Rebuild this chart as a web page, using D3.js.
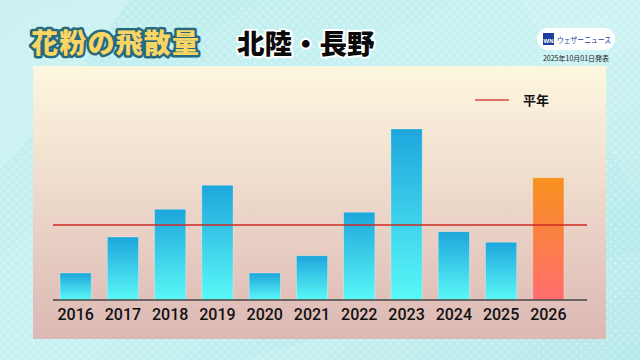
<!DOCTYPE html>
<html>
<head>
<meta charset="utf-8">
<script src="https://cdn.jsdelivr.net/npm/d3@7"></script>
<style>
  html, body { margin: 0; padding: 0; background: #b9ecee; }
  svg { display: block; }
</style>
</head>
<body>
<div id="chart"></div>
<script>
// pollen amount, index relative to the normal year (平年 = 100)
const years = ["2016","2017","2018","2019","2020","2021","2022","2023","2024","2025","2026"];
const amounts = [36, 84, 121, 153, 36, 59, 117, 228, 91, 77, 163];
const normalValue = 100;
const forecastYear = "2026";

const titleText = "花粉の飛散量";
const regionText = "北陸・長野";
const legendText = "平年";
const dateText = "2025年10月01日発表";

const W = 640, H = 360;

const svg = d3.select("#chart")
  .append("svg")
  .attr("width", W)
  .attr("height", H)
  .attr("viewBox", `0 0 ${W} ${H}`);

const defs = svg.append("defs");

// background gradient + dots
const bg = defs.append("linearGradient").attr("id","bgGrad")
  .attr("x1","0").attr("y1","0").attr("x2","1").attr("y2","1");
bg.append("stop").attr("offset","0%").attr("stop-color","#bdeced");
bg.append("stop").attr("offset","50%").attr("stop-color","#c9f2f3");
bg.append("stop").attr("offset","100%").attr("stop-color","#aee6e8");

const dots = defs.append("pattern").attr("id","dots")
  .attr("width",6).attr("height",6).attr("patternUnits","userSpaceOnUse")
  .attr("patternTransform","rotate(45)");
dots.append("circle").attr("cx",3).attr("cy",3).attr("r",1.3).attr("fill","#ffffff").attr("opacity",0.35);

const panelGrad = defs.append("linearGradient").attr("id","panelGrad")
  .attr("x1","0").attr("y1","0").attr("x2","0").attr("y2","1");
panelGrad.append("stop").attr("offset","0%").attr("stop-color","#fdf7df");
panelGrad.append("stop").attr("offset","100%").attr("stop-color","#dcb8b4");

const barGrad = defs.append("linearGradient").attr("id","barGrad")
  .attr("x1","0").attr("y1","0").attr("x2","0").attr("y2","1");
barGrad.append("stop").attr("offset","0%").attr("stop-color","#1ea6dc");
barGrad.append("stop").attr("offset","100%").attr("stop-color","#5af8f7");

const fcGrad = defs.append("linearGradient").attr("id","fcGrad")
  .attr("x1","0").attr("y1","0").attr("x2","0").attr("y2","1");
fcGrad.append("stop").attr("offset","0%").attr("stop-color","#f7921d");
fcGrad.append("stop").attr("offset","100%").attr("stop-color","#ff6d6f");

svg.append("rect").attr("width",W).attr("height",H).attr("fill","url(#bgGrad)");
svg.append("rect").attr("width",W).attr("height",H).attr("fill","url(#dots)");
// soft diagonal light shapes
svg.append("path").attr("d","M0,0 L130,0 L20,150 L0,170 Z").attr("fill","#d2f3f4").attr("opacity",0.7);
svg.append("path").attr("d","M520,0 L640,0 L640,200 Z").attr("fill","#ffffff").attr("opacity",0.10);
svg.append("path").attr("d","M240,360 L640,250 L640,360 Z").attr("fill","#ffffff").attr("opacity",0.12);

// panel
svg.append("rect")
  .attr("x",33).attr("y",66).attr("width",573).attr("height",273)
  .attr("fill","url(#panelGrad)");

// scales
const x = d3.scaleBand().domain(years).range([52, 572]).paddingInner(0.34).paddingOuter(0.17);
const y = d3.scaleLinear().domain([0, 240]).range([300, 120]);

const g = svg.append("g");

g.selectAll(".bar")
  .data(years.map((yr, i) => ({yr, v: amounts[i]})))
  .join("rect")
    .attr("class","bar")
    .attr("x", d => x(d.yr))
    .attr("y", d => y(d.v))
    .attr("width", x.bandwidth())
    .attr("height", d => y(0) - y(d.v))
    .attr("fill", d => d.yr === forecastYear ? "url(#fcGrad)" : "url(#barGrad)")
    .attr("stroke", "#ffffff")
    .attr("stroke-opacity", 0.35)
    .attr("stroke-width", 0.8);

// normal-year line
g.append("line")
  .attr("x1", 53).attr("x2", 587)
  .attr("y1", y(normalValue)).attr("y2", y(normalValue))
  .attr("stroke", "#cc2a26").attr("stroke-width", 1.3);

// x axis
const xAxis = g.append("g")
  .attr("transform", `translate(0,${y(0)})`)
  .call(d3.axisBottom(x).tickSize(0).tickPadding(6));
xAxis.select(".domain").remove();
xAxis.append("line")
  .attr("x1", 53).attr("x2", 587)
  .attr("stroke", "#444").attr("stroke-width", 1.4);
xAxis.selectAll("text")
  .attr("font-family", "Roboto, 'Liberation Sans', Arial, sans-serif")
  .attr("font-weight", 500)
  .attr("font-size", 16)
  .attr("fill", "#111")
  .attr("dy", "0.85em");

// legend
g.append("line")
  .attr("x1", 475).attr("x2", 509).attr("y1", 100).attr("y2", 100)
  .attr("stroke", "#d9473f").attr("stroke-width", 1.5);
g.append("text")
  .attr("x", 523).attr("y", 105)
  .attr("font-family", "'Noto Sans CJK JP', sans-serif")
  .attr("font-weight", "bold")
  .attr("font-size", 13)
  .attr("fill", "#111")
  .text(legendText);

// titles
svg.append("text")
  .attr("x", 31).attr("y", 53)
  .attr("font-family", "'Noto Sans CJK JP', sans-serif")
  .attr("font-weight", 900)
  .attr("font-size", 27)
  .attr("letter-spacing", 1.2)
  .attr("fill", "#f9d563")
  .attr("stroke", "#266a80").attr("stroke-width", 5)
  .attr("stroke-linejoin", "round")
  .attr("paint-order", "stroke")
  .text(titleText);

svg.append("text")
  .attr("x", 237).attr("y", 54)
  .attr("font-family", "'Noto Sans CJK JP', sans-serif")
  .attr("font-weight", 900)
  .attr("font-size", 27.5)
  .attr("fill", "#0a0a0a")
  .attr("stroke", "#ffffff").attr("stroke-width", 4)
  .attr("stroke-linejoin", "round")
  .attr("paint-order", "stroke")
  .text(regionText);

// logo
const logo = svg.append("g");
logo.append("rect")
  .attr("x", 537).attr("y", 28).attr("width", 78).attr("height", 22).attr("rx", 11)
  .attr("fill", "#ffffff");
logo.append("rect")
  .attr("x", 543).attr("y", 33).attr("width", 11).attr("height", 12)
  .attr("fill", "#1d3fa0");
logo.append("text")
  .attr("x", 548.5).attr("y", 43).attr("text-anchor","middle")
  .attr("font-family","'Liberation Sans', Arial, sans-serif")
  .attr("font-size", 6).attr("font-weight","bold").attr("fill","#fff")
  .text("WN");
logo.append("text")
  .attr("x", 557).attr("y", 42.5)
  .attr("font-family", "'Noto Sans CJK JP', sans-serif")
  .attr("font-size", 8)
  .attr("textLength", 54).attr("lengthAdjust", "spacingAndGlyphs")
  .attr("fill", "#1d3fa0")
  .text("ウェザーニュース");
svg.append("text")
  .attr("x", 576).attr("y", 61).attr("text-anchor","middle")
  .attr("font-family", "'Noto Sans CJK JP', sans-serif")
  .attr("font-size", 7)
  .attr("fill", "#222")
  .text(dateText);
</script>
</body>
</html>
